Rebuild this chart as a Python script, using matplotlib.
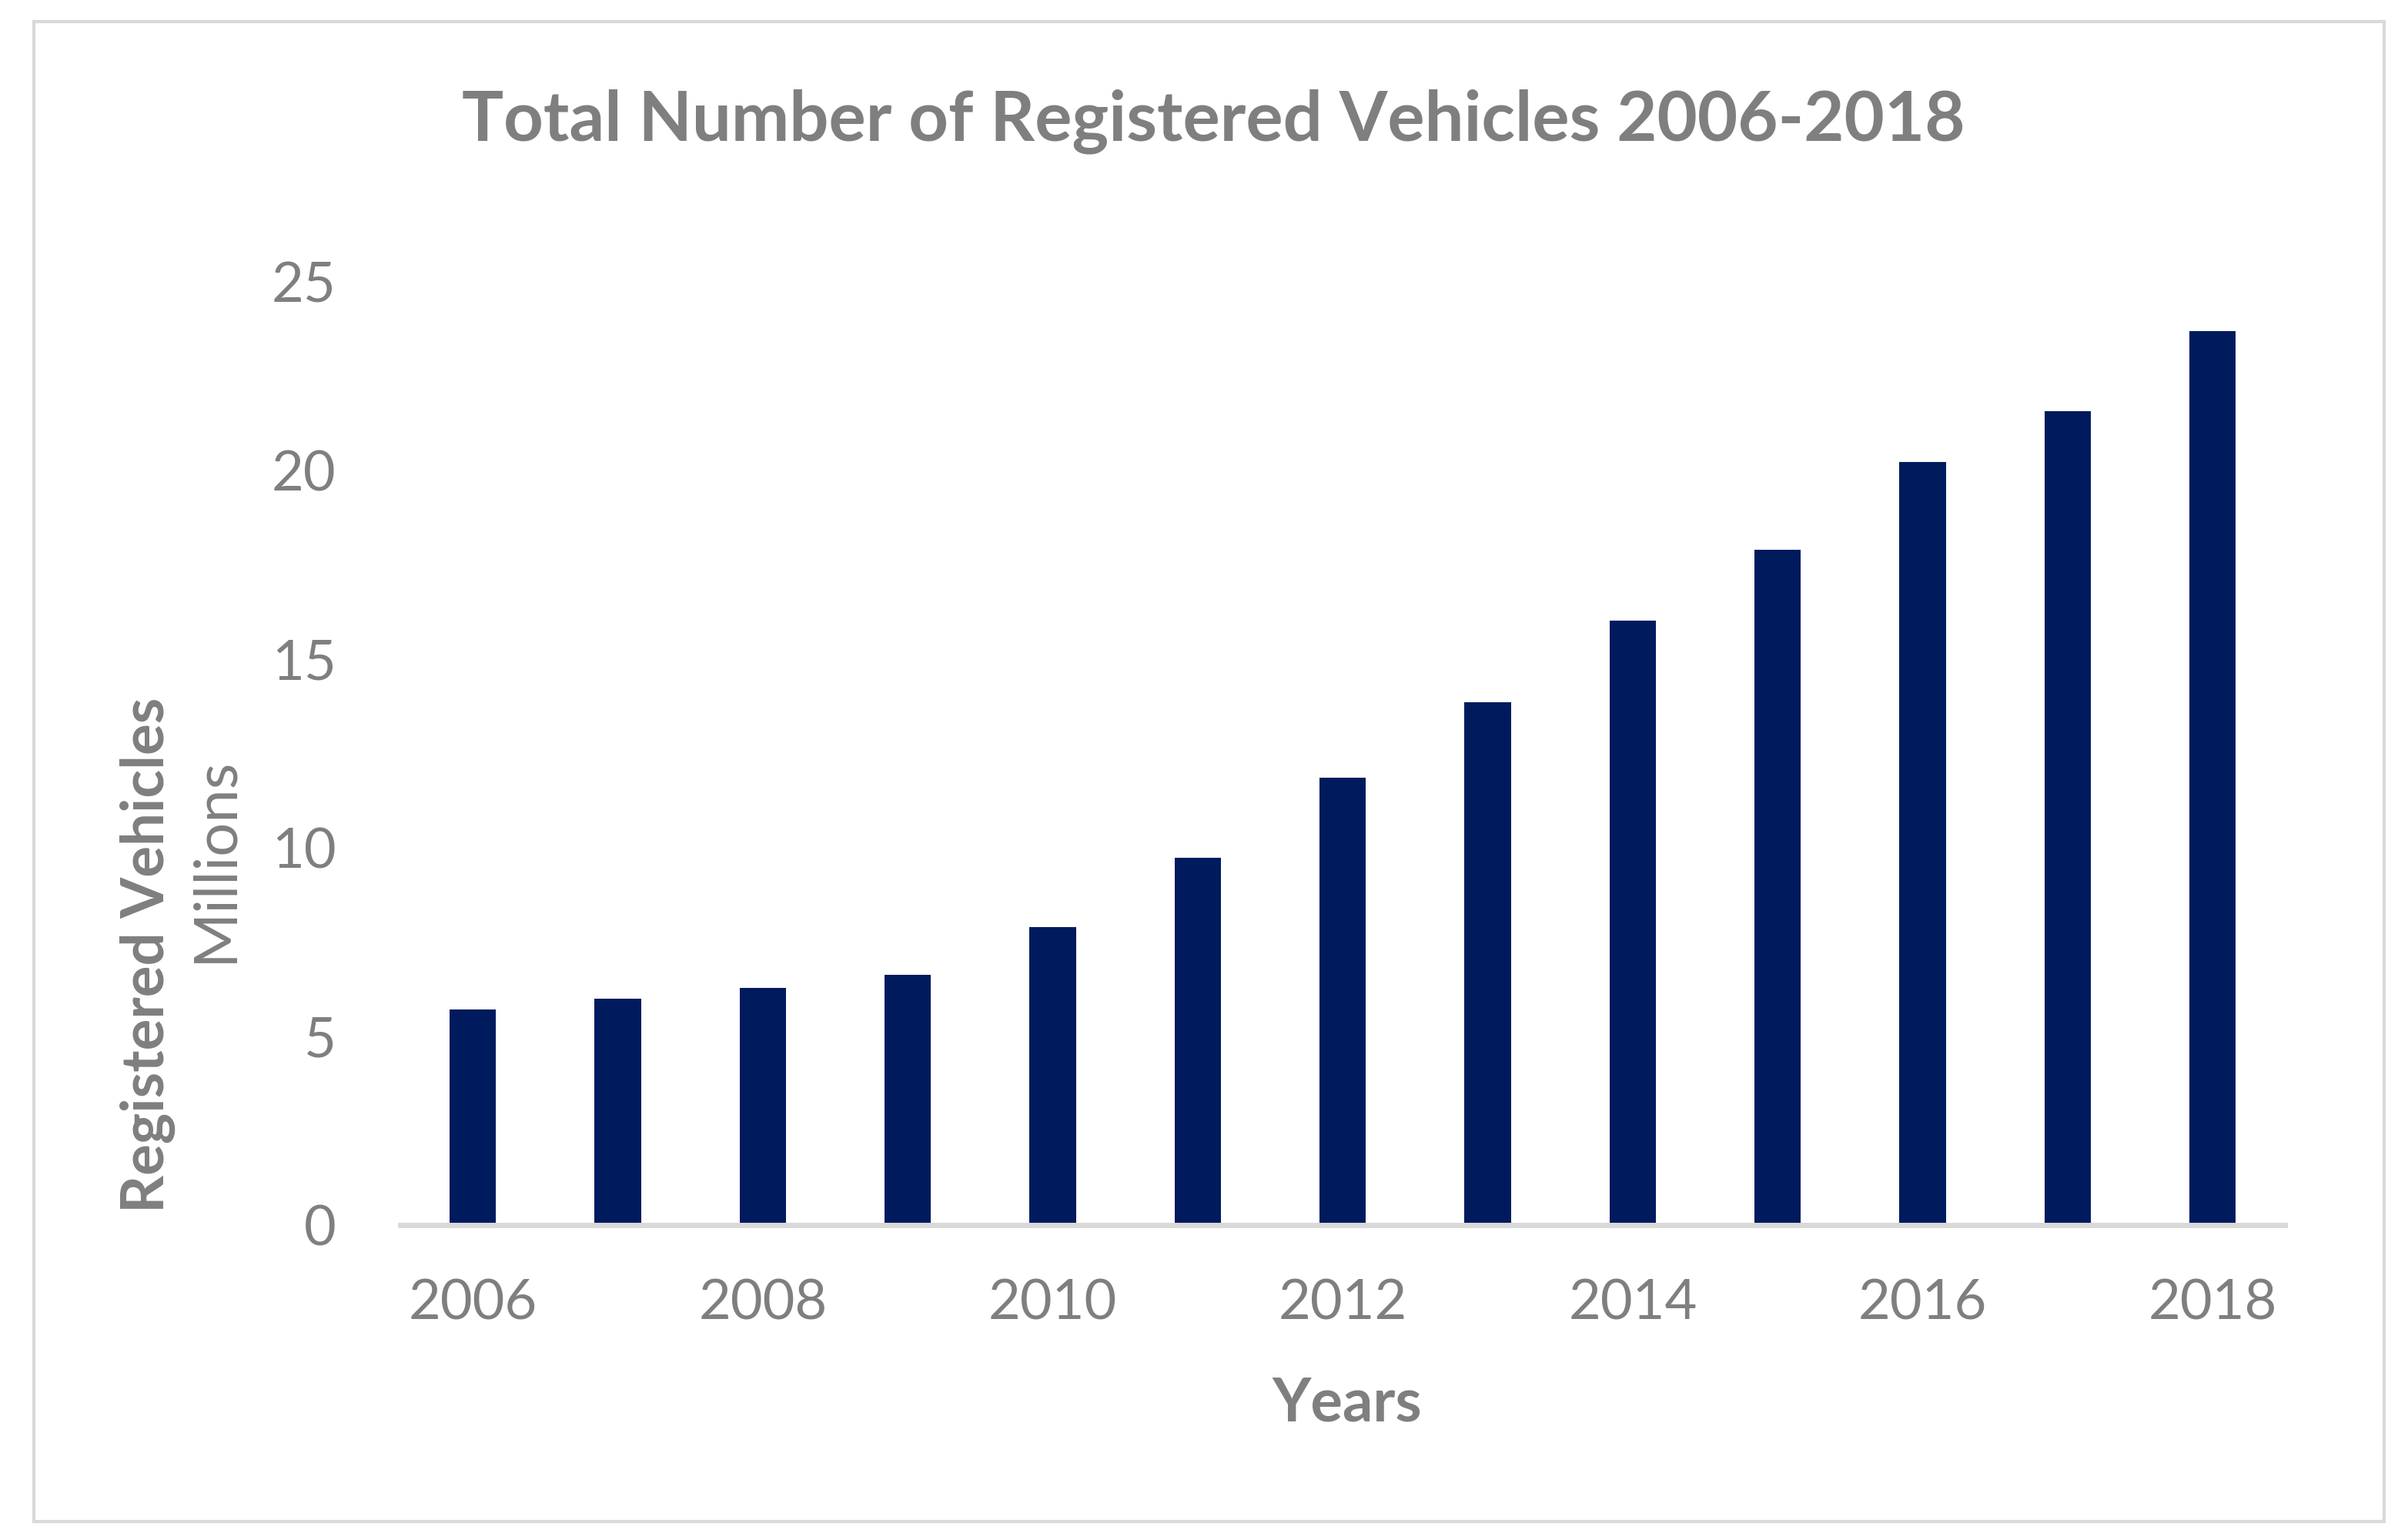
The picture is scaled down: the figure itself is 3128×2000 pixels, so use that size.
import matplotlib
matplotlib.use("Agg")
import matplotlib.pyplot as plt
from matplotlib.patches import Rectangle
import numpy as np

# values (millions of vehicles)
years = [2006, 2007, 2008, 2009, 2010, 2011, 2012, 2013, 2014, 2015, 2016, 2017, 2018]
vehicles = [5.71, 6.0, 6.29, 6.64, 7.9, 9.73, 11.86, 13.86, 16.02, 17.9, 20.22, 21.57, 23.69]
y_ticks = [0, 5, 10, 15, 20, 25]

GRAY = "#7f7f7f"
LINE = "#d9d9d9"
NAVY = "#001a5e"

plt.rcParams["font.family"] = ["Lato", "DejaVu Sans"]

fig = plt.figure(figsize=(15.64, 10), dpi=200)
ax = fig.add_axes([0.1662, 0.2045, 0.9490 - 0.1662, 0.6125])

x = np.arange(len(years)) + 0.5
ax.bar(x, vehicles, width=0.32, color=NAVY, zorder=2)

ax.set_xlim(0, len(years))
ax.set_ylim(0, 25)
ax.set_yticks(y_ticks)
ax.set_yticklabels([str(t) for t in y_ticks])
ax.set_xticks(x[::2])
ax.set_xticklabels([str(y) for y in years[::2]])
ax.tick_params(axis="both", length=0, labelsize=26, labelcolor=GRAY)
ax.tick_params(axis="y", pad=30)
ax.tick_params(axis="x", pad=25)

for side in ["top", "right", "left"]:
    ax.spines[side].set_visible(False)
ax.spines["bottom"].set_color(LINE)
ax.spines["bottom"].set_linewidth(2.5)
ax.spines["bottom"].set_zorder(3)

fig.text(0.504, 0.921, "Total Number of Registered Vehicles 2006-2018",
         ha="center", va="center", fontsize=32.5, fontweight="bold", color=GRAY)
fig.text(0.5594, 0.088, "Years", ha="center", va="center",
         fontsize=28, fontweight="bold", color=GRAY)
fig.text(0.0615, 0.38, "Registered Vehicles", ha="center", va="center",
         rotation=90, fontsize=27.5, fontweight="bold", color=GRAY)
fig.text(0.0895, 0.442, "Millions", ha="center", va="center",
         rotation=90, fontsize=28, color=GRAY)

# light border around the whole chart
fig.patches.append(Rectangle((0.014, 0.012), 0.976, 0.974, transform=fig.transFigure,
                             fill=False, edgecolor=LINE, linewidth=1.5))

fig.savefig("out.png", dpi=200)
